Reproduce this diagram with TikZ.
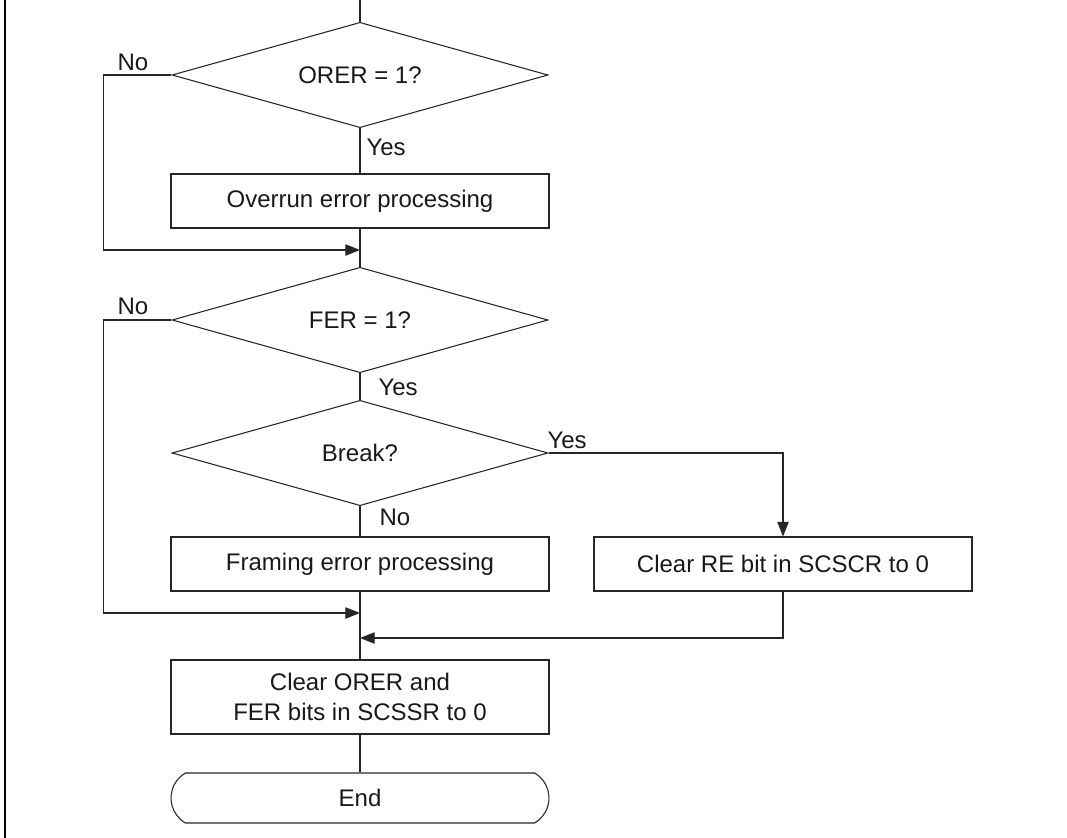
\documentclass[tikz,border=0pt]{standalone}
\usepackage{fontspec}
\setmainfont{Liberation Sans}
\usetikzlibrary{shapes.geometric,shapes.misc,arrows.meta}

\begin{document}
\begin{tikzpicture}[x=0.75pt, y=-0.75pt, line width=0.8pt, draw=black!85,
  every node/.style={font=\fontsize{18}{22.5}\selectfont, text=black!90},
  dec/.style={draw,diamond,aspect=3.58,inner sep=0pt,minimum width=282pt,minimum height=79pt},
  proc/.style={draw,rectangle,inner sep=0pt,minimum width=283.5pt,minimum height=40.5pt,align=center},
  term/.style={draw,rounded rectangle,rounded rectangle arc length=120,inner sep=0pt,minimum width=283.5pt,minimum height=37.5pt},
  lbl/.style={inner sep=0pt},
  arr/.style={-{Triangle[length=11pt,width=8.5pt]}}]
\useasboundingbox (0,0) rectangle (1067,838);
\draw[line width=1.6pt,black] (5,0) -- (5,838);

\coordinate (top) at (360,0);
\node[dec] (orer) at (360,75) {ORER = 1?};
\node[proc] (over) at (360,201) {Overrun error processing};
\coordinate (m1) at (360,250);
\node[dec] (fer) at (360,320) {FER = 1?};
\node[dec] (brk) at (360,453) {Break?};
\node[proc] (fram) at (360,564) {Framing error processing};
\node[proc] (clre) at (783,564) {Clear RE bit in SCSCR to 0};
\coordinate (m2) at (360,613);
\coordinate (m3) at (360,638);
\node[proc,minimum height=55.5pt] (clrf) at (360,697) {Clear ORER and\\FER bits in SCSSR to 0};
\node[term] (end) at (360,798) {End};

% labels
\node[lbl] (no1) at (133,62) {No};
\node[lbl,anchor=west] (yes1) at (366,147) {Yes};
\node[lbl] (no2) at (133,306) {No};
\node[lbl,anchor=west] (yes2) at (378,387) {Yes};
\node[lbl,anchor=west] (yes3) at (547,440) {Yes};
\node[lbl,anchor=west] (no3) at (379,517) {No};

% main line
\draw (top) -- (orer.north);
\draw (orer.south) -- (over.north);
\draw (over.south) -- (fer.north);
\draw (fer.south) -- (brk.north);
\draw (brk.south) -- (fram.north);
\draw (fram.south) -- (clrf.north);
\draw (clrf.south) -- (end.north);

% branches
\draw[arr] (orer.west) -- ++(-68,0) |- (m1);
\draw[arr] (fer.west) -- ++(-68,0) |- (m2);
\draw[arr] (brk.east) -| (clre.north);
\draw[arr] (clre.south) |- (m3);
\end{tikzpicture}
\end{document}
